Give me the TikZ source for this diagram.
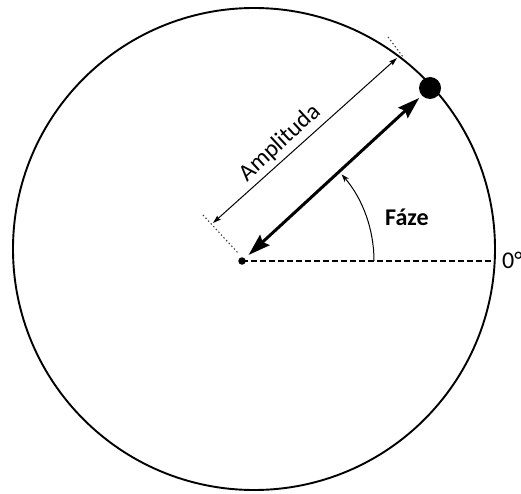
\documentclass[tikz,border=0pt]{standalone}
\usepackage{fontspec}
\setmainfont{Carlito}
\usetikzlibrary{arrows.meta,calc}
\begin{document}
\begin{tikzpicture}[x=1pt,y=1pt,
  rim/.style={draw=black,line width=1.9pt},
  dotnode/.style={circle,fill=black,inner sep=0pt},
  vecline/.style={line width=3pt,{Stealth[length=22pt,width=14pt,inset=3pt]}-{Stealth[length=22pt,width=14pt,inset=3pt]}},
  dimline/.style={line width=1pt,{Stealth[length=8pt,width=5pt,inset=1pt]}-{Stealth[length=8pt,width=5pt,inset=1pt]}},
  extline/.style={draw=black!75,line width=1.1pt,dash pattern=on 1.4pt off 2.4pt},
  refline/.style={line width=1.3pt,dash pattern=on 6pt off 3pt},
  anglearc/.style={line width=1pt,-{Stealth[length=8pt,width=5.5pt]}},
  lbl/.style={inner sep=0pt,font=\fontsize{24}{28}\selectfont}
]
\useasboundingbox (0,0) rectangle (521,493);
% outer circle
\node[rim,circle,minimum size=482pt,inner sep=0pt] (C) at (254,244) {};
% centre and phasor tip
\node[dotnode,minimum size=7.5pt] (O) at (242,232) {};
\node[dotnode,minimum size=22pt] (P) at (430,405) {};
% reference (0 degree) line
\coordinate (E) at (494.7,232);
\draw[refline] (O.center) -- (E);
% phasor double arrow
\draw[vecline,shorten <=5pt,shorten >=3.5pt] (O) -- (P);
% amplitude dimension
\coordinate (A1) at (213,270);
\coordinate (A2) at (397,435);
\coordinate (L1a) at (203,278);
\coordinate (L1b) at (238,240);
\coordinate (L2a) at (388,456);
\coordinate (L2b) at (403,436);
\draw[extline] (L1a) -- (L1b);
\draw[extline] (L2a) -- (L2b);
\draw[dimline] (A1) -- (A2);
\node[lbl,rotate=42.6] (amp) at (280,350) {Amplituda};
% phase arc
\coordinate (F0) at (374,232);
\draw[anglearc] (F0) arc[start angle=0,end angle=41,radius=132];
\node[lbl,anchor=base west,font=\fontsize{24}{28}\selectfont\bfseries] (faze) at (385,268) {Fáze};
\node[lbl,anchor=base west] (zero) at (502,225) {0°};
\end{tikzpicture}
\end{document}
